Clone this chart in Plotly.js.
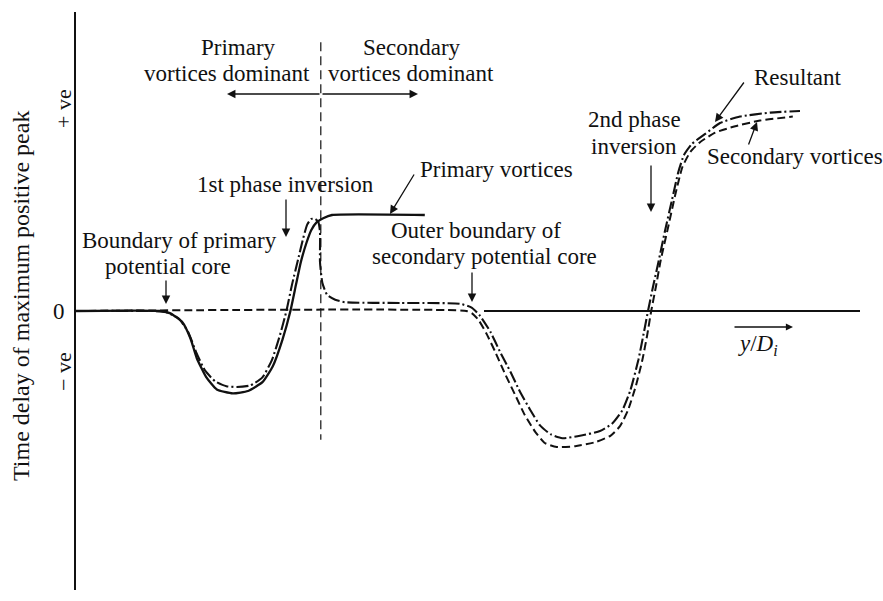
<!DOCTYPE html>
<html>
<head>
<meta charset="utf-8">
<script src="https://cdn.plot.ly/plotly-3.0.1.min.js"></script>
<style>html,body{margin:0;padding:0;background:#fff}#chart{width:883px;height:601px}</style>
</head>
<body>
<div id="chart"></div>
<script>
// ---- Data (schematic units: x = y/Di, y = time delay) ----
const resultantX = [0,0.93,1.11,1.28,1.40,1.50,1.61,1.74,1.88,2.01,2.18,2.33,2.45,2.55,2.63,2.70,2.78,2.84,2.89,2.94,2.99,3.03,3.05,3.05,3.08,3.14,3.24,3.36,4.05,4.80,4.95,5.05,5.18,5.30,5.43,5.55,5.68,5.80,5.93,6.08,6.30,6.55,6.70,6.83,6.93,7.03,7.10,7.15,7.21,7.28,7.36,7.45,7.53,7.60,7.70,7.86,8.05,8.30,8.68,9.05];
const resultantY = [0,0,-0.01,-0.09,-0.26,-0.51,-0.74,-0.88,-0.94,-0.95,-0.93,-0.83,-0.61,-0.30,0,0.33,0.66,0.91,1.08,1.15,1.15,1.11,0.99,0.61,0.35,0.20,0.14,0.11,0.10,0.09,0.04,-0.06,-0.26,-0.51,-0.76,-1.01,-1.24,-1.43,-1.54,-1.59,-1.56,-1.50,-1.41,-1.24,-0.99,-0.61,-0.26,0,0.29,0.61,0.99,1.39,1.74,1.95,2.09,2.21,2.35,2.43,2.48,2.50];

const primaryX = [0,1.05,1.18,1.33,1.43,1.51,1.63,1.76,1.96,2.15,2.33,2.46,2.58,2.68,2.75,2.81,2.88,2.94,3.01,3.09,3.20,4.36];
const primaryY = [0,0,-0.03,-0.14,-0.34,-0.59,-0.83,-0.98,-1.03,-1.00,-0.89,-0.69,-0.36,0,0.33,0.61,0.85,1.01,1.11,1.16,1.20,1.20];

const secondaryX = [0,4.88,4.95,5.03,5.13,5.24,5.36,5.49,5.61,5.74,5.86,6.01,6.24,6.49,6.68,6.80,6.90,7.00,7.08,7.14,7.19,7.25,7.31,7.40,7.49,7.58,7.68,7.80,7.99,8.24,8.55,8.96];
const secondaryY = [0,0,-0.03,-0.11,-0.28,-0.51,-0.78,-1.05,-1.30,-1.51,-1.65,-1.70,-1.69,-1.64,-1.56,-1.44,-1.24,-0.93,-0.61,-0.30,0,0.31,0.64,1.04,1.45,1.80,1.99,2.11,2.23,2.31,2.38,2.43];

const baselineX = [5.10, 9.80];
const baselineY = [0, 0];

const dominanceX = [3.06, 3.06];
const dominanceY = [3.36, -1.61];

// ---- helpers for text placement (pixel -> paper) ----
const L = 76, T = 12, W = 800, H = 578;
const px = v => (v - L) / W;
const py = v => (T + H - v) / H;

const ink = '#111';
const serif = 'Liberation Serif, Times New Roman, serif';
const FS = 23;

const traces = [
  {x: secondaryX, y: secondaryY, mode: 'lines', line: {color: ink, width: 2, dash: '8px,4px', shape: 'spline', smoothing: 0.5}, hoverinfo: 'skip'},
  {x: primaryX, y: primaryY, mode: 'lines', line: {color: ink, width: 2.3, shape: 'spline', smoothing: 0.5}, hoverinfo: 'skip'},
  {x: resultantX, y: resultantY, mode: 'lines', line: {color: ink, width: 2.1, dash: '12px,3px,2px,3px', shape: 'spline', smoothing: 0.5}, hoverinfo: 'skip'},
  {x: baselineX, y: baselineY, mode: 'lines', line: {color: ink, width: 2}, hoverinfo: 'skip'},
  {x: dominanceX, y: dominanceY, mode: 'lines', line: {color: ink, width: 1.2, dash: '9px,5px'}, hoverinfo: 'skip'}
];

function txt(t, x, y, opts) {
  return Object.assign({text: t, x: px(x), y: py(y), xref: 'paper', yref: 'paper', showarrow: false,
    font: {family: serif, size: FS, color: ink}, xanchor: 'center', yanchor: 'middle'}, opts || {});
}
function arrow(hx, hy, tx, ty, opts) {
  return Object.assign({text: '', x: px(hx), y: py(hy), xref: 'paper', yref: 'paper', showarrow: true,
    ax: tx - hx, ay: ty - hy, arrowhead: 2, arrowsize: 1.3, arrowwidth: 1.3, arrowcolor: ink}, opts || {});
}

const annotations = [
  txt('Primary', 238, 48),
  txt('vortices dominant', 312, 74, {xanchor: 'right'}),
  txt('Secondary', 412, 48),
  txt('vortices dominant', 326, 74, {xanchor: 'left'}),
  arrow(227, 94, 321, 94),
  arrow(418, 94, 321, 94),
  txt('Primary vortices', 418, 169, {xanchor: 'left'}),
  arrow(390, 214, 415, 173),
  txt('1st phase inversion', 376, 184, {xanchor: 'right'}),
  arrow(286, 237, 286, 198),
  txt('Boundary of primary', 80, 240, {xanchor: 'left'}),
  txt('potential core', 168, 266),
  arrow(166, 304, 166, 279),
  txt('Outer boundary of', 389, 230, {xanchor: 'left'}),
  txt('secondary potential core', 370, 256, {xanchor: 'left'}),
  arrow(472, 302, 472, 271),
  txt('2nd phase', 634, 120),
  txt('inversion', 634, 146),
  arrow(651, 212, 651, 164),
  txt('Resultant', 752, 78, {xanchor: 'left'}),
  arrow(715, 122, 745, 81),
  txt('Secondary vortices', 705, 157, {xanchor: 'left'}),
  arrow(757, 122, 748, 146),
  txt('<i>y</i>/<i>D<sub>i</sub></i>', 736, 345, {xanchor: 'left'}),
  arrow(793, 327, 733, 327, {arrowsize: 1.1}),
  txt('0', 67, 311, {xanchor: 'right'}),
  txt('+ ve', 63, 109, {textangle: -90, font: {family: serif, size: 22, color: ink}}),
  txt('− ve', 63, 372, {textangle: -90, font: {family: serif, size: 22, color: ink}}),
  txt('Time delay of maximum positive peak', 21, 296, {textangle: -90, font: {family: serif, size: 24, color: ink}})
];

const layout = {
  width: 883, height: 601,
  margin: {l: L, r: 883 - L - W, t: T, b: 601 - T - H, pad: 0},
  paper_bgcolor: '#fff', plot_bgcolor: '#fff',
  showlegend: false,
  xaxis: {range: [0, 10], showgrid: false, zeroline: false, showline: false, showticklabels: false, ticks: ''},
  yaxis: {range: [(311 - (T + H)) / 80, (311 - T) / 80], showgrid: false, zeroline: false, showline: true,
          linecolor: ink, linewidth: 2, showticklabels: false, ticks: ''},
  annotations: annotations
};

Plotly.newPlot('chart', traces, layout, {staticPlot: true, displayModeBar: false});
</script>
</body>
</html>
